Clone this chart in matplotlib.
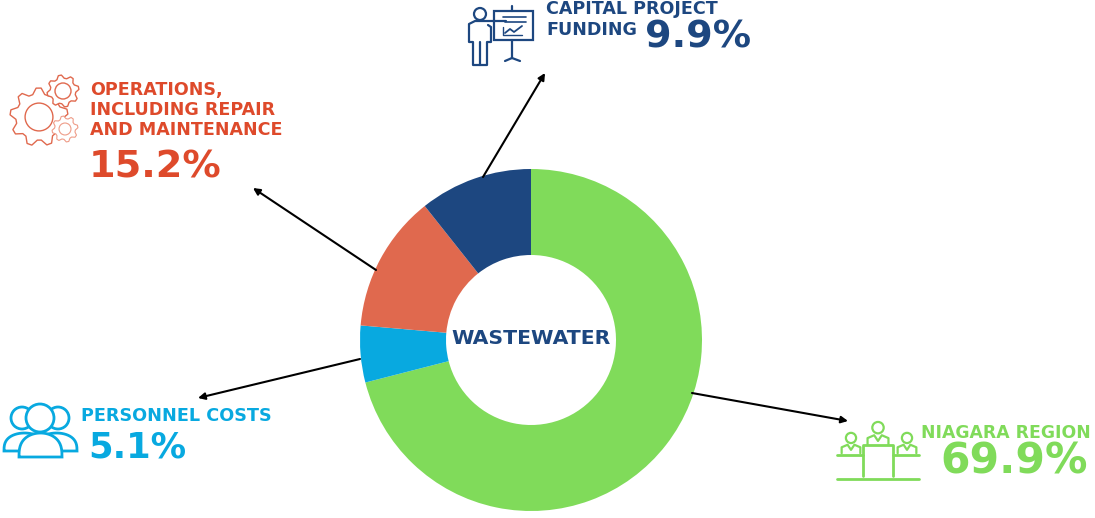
import numpy as np
import matplotlib
matplotlib.use("Agg")
import matplotlib.pyplot as plt
from matplotlib.patches import Circle, Rectangle, Polygon

W, H = 1095, 518

# slice sizes as drawn in the picture, which differ a little from the printed labels
categories = ["Niagara Region", "Personnel Costs", "Operations", "Capital Project Funding"]
drawn_shares = [71.0, 5.36, 12.97, 10.67]
slice_colors = ["#80DB5A", "#08A9E0", "#E0694E", "#1D4780"]

GREEN = "#80DB5A"
CYAN = "#08A9E0"
RED = "#DE4A2B"
ORANGE = "#E0694E"
NAVY = "#1D4780"


def Y(y):
    return H - y


fig = plt.figure(figsize=(W / 100, H / 100), dpi=100)
ax = fig.add_axes([0, 0, 1, 1])
ax.pie(drawn_shares, colors=slice_colors, startangle=90, counterclock=False,
       center=(531, Y(340)), radius=171, wedgeprops=dict(width=86, linewidth=0))
ax.set_xlim(0, W)
ax.set_ylim(0, H)
ax.set_aspect("equal")
ax.axis("off")


def label(x, y, s, color, size, ha="left"):
    ax.text(x, Y(y), s, color=color, fontsize=size, fontweight="bold",
            family="DejaVu Sans", ha=ha, va="baseline")


def line(xs, ys, color, lw=1.6, z=3):
    ax.plot(xs, [Y(v) for v in ys], color=color, lw=lw, solid_capstyle="round", zorder=z)


def arrow(x0, y0, x1, y1):
    ax.annotate("", xy=(x1, Y(y1)), xytext=(x0, Y(y0)),
                arrowprops=dict(arrowstyle="-|>", color="black", lw=1.5,
                                mutation_scale=10, shrinkA=0, shrinkB=0))


def gear(cx, cy, r, teeth, color, hole=0.48, lw=1.0):
    n = teeth * 4
    ang = np.arange(n) * 2 * np.pi / n + 0.1
    rad = np.where(np.arange(n) % 4 < 2, r, r * 0.8)
    ax.add_patch(Polygon(np.c_[cx + rad * np.cos(ang), Y(cy) + rad * np.sin(ang)],
                         closed=True, fc="white", ec=color, lw=lw, joinstyle="round"))
    ax.add_patch(Circle((cx, Y(cy)), r * hole, fill=False, ec=color, lw=lw))


def person(cx, top, color, scale=1.0):
    # small seated figure for the council table icon
    ax.add_patch(Circle((cx, Y(top + 7 * scale)), 6 * scale, fill=False, ec=color, lw=1.6))
    line([cx - 11 * scale, cx - 11 * scale, cx - 4 * scale, cx, cx + 4 * scale, cx + 11 * scale, cx + 11 * scale],
         [top + 25 * scale, top + 18 * scale, top + 15 * scale, top + 21 * scale, top + 15 * scale,
          top + 18 * scale, top + 25 * scale], color)


def shoulders(x0, x1, top, base, color, z):
    # rounded body outline, white inside so it hides what is behind it
    t = np.linspace(np.pi, 0, 30)
    mid, half = (x0 + x1) / 2, (x1 - x0) / 2
    xs = np.r_[mid + half * np.cos(t), x0]
    ys = np.r_[base - (base - top) * np.sin(t) ** 0.7, base]
    ax.add_patch(Polygon(np.c_[xs, [Y(v) for v in ys]], closed=True,
                         fc="white", ec=color, lw=2, zorder=z))


# center title
label(531, 344, "WASTEWATER", NAVY, 14.7, ha="center")

# arrows
arrow(483, 177, 545, 73)
arrow(376, 270, 253, 188)
arrow(360, 359, 198, 398)
arrow(692, 393, 848, 421)

# capital project
label(546, 14, "CAPITAL PROJECT", NAVY, 12.6)
label(546, 35, "FUNDING", NAVY, 12.6)
label(645, 48, "9.9%", NAVY, 27.5)
ax.add_patch(Circle((480, Y(14)), 6, fill=False, ec=NAVY, lw=1.6))
line([506, 475, 469, 469, 473, 473, 487, 487, 491, 491, 488],
     [21, 21, 24, 42, 42, 65, 65, 42, 42, 27, 25], NAVY)
line([480, 480], [42, 65], NAVY)
ax.add_patch(Rectangle((494, Y(40)), 39, 29, fill=False, ec=NAVY, lw=1.6))
line([512, 512], [6, 11], NAVY)
line([512, 512, 505], [40, 58, 61], NAVY)
line([512, 520], [58, 61], NAVY)
line([503, 526], [17, 17], NAVY, 1.2)
line([505, 526], [22, 22], NAVY, 1.2)
line([503, 503, 522], [27, 35, 35], NAVY, 1.0)
line([505, 510, 514, 522], [33, 29, 32, 26], NAVY, 1.3)

# operations
label(90, 95, "OPERATIONS,", RED, 12.6)
label(90, 115, "INCLUDING REPAIR", RED, 12.6)
label(90, 135, "AND MAINTENANCE", RED, 12.6)
label(89, 177, "15.2%", RED, 27.5)
gear(39, 117, 29, 9, ORANGE)
gear(63, 91, 16, 8, ORANGE, hole=0.5)
gear(65, 129, 13, 8, "#EE9C88", hole=0.46, lw=0.8)

# personnel
label(81, 421, "PERSONNEL COSTS", CYAN, 12.7)
label(88, 457, "5.1%", CYAN, 25.5)
shoulders(4, 45, 433, 451, CYAN, 2)
shoulders(36, 77, 433, 451, CYAN, 2)
for cx in (22, 58):
    ax.add_patch(Circle((cx, Y(418)), 11, fc="white", ec=CYAN, lw=2, zorder=2.5))
shoulders(19, 62, 433, 457, CYAN, 3)
ax.add_patch(Circle((40, Y(418)), 14, fc="white", ec=CYAN, lw=2, zorder=4))

# niagara region
label(921, 438, "NIAGARA REGION", GREEN, 12.4)
label(940, 474, "69.9%", GREEN, 30.5)
person(851, 432, GREEN, 0.85)
person(878, 421, GREEN, 0.95)
person(907, 432, GREEN, 0.85)
line([837, 863], [455, 455], GREEN, 2)
line([863, 863, 893, 893], [476, 445, 445, 476], GREEN, 2)
line([893, 919], [455, 455], GREEN, 2)
line([837, 919], [479, 479], GREEN, 2)

fig.savefig("out.png", dpi=100, facecolor="white")
